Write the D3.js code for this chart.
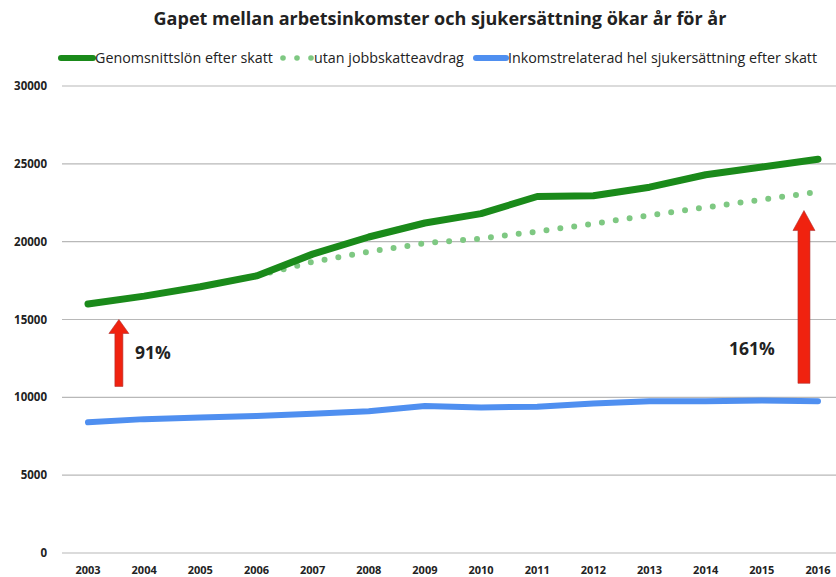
<!DOCTYPE html>
<html>
<head>
<meta charset="utf-8">
<script src="https://cdn.jsdelivr.net/npm/d3@7"></script>
<style>
  body { margin: 0; background: #fff; }
  text { font-family: "Open Sans", sans-serif; }
</style>
</head>
<body>
<script>
const years = [2003, 2004, 2005, 2006, 2007, 2008, 2009, 2010, 2011, 2012, 2013, 2014, 2015, 2016];
const lon = [16000, 16500, 17100, 17800, 19200, 20300, 21200, 21800, 22900, 22950, 23500, 24300, 24800, 25300];
const utanAvdrag = [null, null, null, 17800, 18700, 19350, 19900, 20200, 20650, 21150, 21700, 22200, 22700, 23200];
const sjuk = [8400, 8600, 8700, 8800, 8950, 9100, 9450, 9350, 9400, 9600, 9750, 9750, 9800, 9750];
const yTicks = [0, 5000, 10000, 15000, 20000, 25000, 30000];
const arrows = [
  { year: 2003.55, from: 10700, to: 15000, label: "91%" },
  { year: 2015.75, from: 10900, to: 22000, label: "161%" }
];

const W = 836, H = 577;
const svg = d3.select('body').append('svg').attr('width', W).attr('height', H);

const x = d3.scaleLinear().domain([2003, 2016]).range([88, 818]);
const y = d3.scaleLinear().domain([0, 30000]).range([553, 86]);

// grid
svg.append('g').selectAll('line').data(yTicks).join('line')
  .attr('x1', 62).attr('x2', 836)
  .attr('y1', d => y(d)).attr('y2', d => y(d))
  .attr('stroke', '#b8b8b8').attr('stroke-width', 1.2);

svg.append('g').selectAll('text').data(yTicks).join('text')
  .attr('x', 47).attr('y', d => y(d) + 4)
  .attr('text-anchor', 'end')
  .style('font-size', '11.5px').style('font-weight', 'bold').attr('fill', '#222')
  .text(d => d);

svg.append('g').selectAll('text').data(years).join('text')
  .attr('x', d => x(d)).attr('y', 574)
  .attr('text-anchor', 'middle')
  .style('font-size', '11px').style('font-weight', 'bold').attr('fill', '#222')
  .text(d => d);

const line = d3.line()
  .defined(d => d[1] != null)
  .x(d => x(d[0])).y(d => y(d[1]));

svg.append('path')
  .attr('d', line(years.map((yr, i) => [yr, utanAvdrag[i]])))
  .attr('fill', 'none').attr('stroke', '#7ec882')
  .attr('stroke-width', 6).attr('stroke-linecap', 'round')
  .attr('stroke-dasharray', '0 14');

svg.append('path')
  .attr('d', line(years.map((yr, i) => [yr, lon[i]])))
  .attr('fill', 'none').attr('stroke', '#1a8a1a')
  .attr('stroke-width', 7).attr('stroke-linecap', 'round').attr('stroke-linejoin', 'round');

svg.append('path')
  .attr('d', line(years.map((yr, i) => [yr, sjuk[i]])))
  .attr('fill', 'none').attr('stroke', '#4f8ff0')
  .attr('stroke-width', 6).attr('stroke-linecap', 'round').attr('stroke-linejoin', 'round');

// arrows
arrows.forEach((a, i) => {
  const cx = x(a.year), y0 = y(a.from), y1 = y(a.to);
  const sw = i === 0 ? 4 : 6, hw = i === 0 ? 10 : 11, hh = i === 0 ? 14 : 20;
  svg.append('path')
    .attr('d', `M${cx - sw},${y0} L${cx - sw},${y1 + hh} L${cx - hw},${y1 + hh} L${cx},${y1} L${cx + hw},${y1 + hh} L${cx + sw},${y1 + hh} L${cx + sw},${y0} Z`)
    .attr('fill', '#f0220f').attr('stroke', '#b03030').attr('stroke-width', 0.6);
});
svg.append('text').attr('x', 135).attr('y', 359)
  .style('font-size', '17.5px').style('font-weight', 'bold').attr('fill', '#222').text(arrows[0].label);
svg.append('text').attr('x', 729).attr('y', 355)
  .style('font-size', '17.5px').style('font-weight', 'bold').attr('fill', '#222').text(arrows[1].label);

// title
svg.append('text').attr('x', 440).attr('y', 25).attr('text-anchor', 'middle')
  .style('font-size', '18px').style('font-weight', 'bold').attr('fill', '#222')
  .text('Gapet mellan arbetsinkomster och sjukersättning ökar år för år');

// legend
const lg = svg.append('g').style('font-size', '14.3px').attr('fill', '#222');
lg.append('line').attr('x1', 61).attr('x2', 93).attr('y1', 58).attr('y2', 58)
  .attr('stroke', '#1a8a1a').attr('stroke-width', 6).attr('stroke-linecap', 'round');
lg.append('text').attr('x', 95).attr('y', 63).text('Genomsnittslön efter skatt');
lg.selectAll('circle').data([283, 297, 311]).join('circle')
  .attr('cx', d => d).attr('cy', 58).attr('r', 2.8).attr('fill', '#7ec882');
lg.append('text').attr('x', 314).attr('y', 63).text('utan jobbskatteavdrag');
lg.append('line').attr('x1', 476).attr('x2', 506).attr('y1', 58).attr('y2', 58)
  .attr('stroke', '#4f8ff0').attr('stroke-width', 6).attr('stroke-linecap', 'round');
lg.append('text').attr('x', 508).attr('y', 63).text('Inkomstrelaterad hel sjukersättning efter skatt');
</script>
</body>
</html>
